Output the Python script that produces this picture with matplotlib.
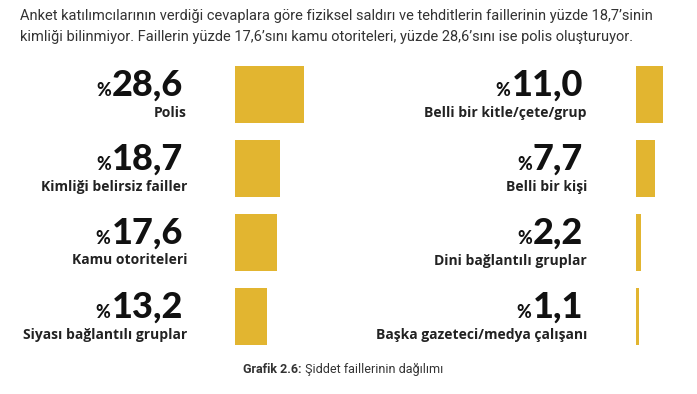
import matplotlib.pyplot as plt

# Data
left_labels = ["Polis", "Kimliği belirsiz failler", "Kamu otoriteleri", "Siyası bağlantılı gruplar"]
left_values = [28.6, 18.7, 17.6, 13.2]
right_labels = ["Belli bir kitle/çete/grup", "Belli bir kişi", "Dini bağlantılı gruplar", "Başka gazeteci/medya çalışanı"]
right_values = [11.0, 7.7, 2.2, 1.1]

header_lines = [
    "Anket katılımcılarının verdiği cevaplara göre fiziksel saldırı ve tehditlerin faillerinin yüzde 18,7’sinin",
    "kimliği bilinmiyor. Faillerin yüzde 17,6’sını kamu otoriteleri, yüzde 28,6’sını ise polis oluşturuyor.",
]
caption_bold = "Grafik 2.6:"
caption_rest = " Şiddet faillerinin dağılımı"

BAR_COLOR = "#E2B530"
W, H = 697, 394
PX_PER_UNIT = 2.41  # bar width in pixels per percentage point
row_centers = [94.5, 168.5, 242.5, 316.5]

fig = plt.figure(figsize=(W / 100, H / 100), dpi=100)
bg = fig.add_axes([0, 0, 1, 1])
bg.set_xlim(0, W)
bg.set_ylim(H, 0)
bg.axis("off")

for i, line in enumerate(header_lines):
    bg.text(20, 20 + i * 21, line, fontsize=10.5, family="Roboto", color="#333333",
            va="baseline")


def bar_column(x0, values):
    # axes laid out in pixels, data in percent
    width_px = 90
    ax = fig.add_axes([x0 / W, 0, width_px / W, 1])
    ax.set_xlim(0, width_px / PX_PER_UNIT)
    ax.set_ylim(H, 0)
    ax.barh(row_centers, values, height=57, left=0, color=BAR_COLOR)
    ax.axis("off")


bar_column(235, left_values)
bar_column(636, right_values)

fig.canvas.draw()
renderer = fig.canvas.get_renderer()


def label_column(x_right, labels, values):
    for yc, lab, val in zip(row_centers, labels, values):
        num = bg.text(x_right - 4, yc + 1, f"{val:.1f}".replace(".", ","), fontsize=26,
                      family="Lato", weight="black", ha="right", va="baseline", color="#111111")
        bb = num.get_window_extent(renderer)
        xr = bg.transData.inverted().transform((bb.x0, 0))[0]
        bg.text(xr - 1, yc + 1, "%", fontsize=13, family="Lato", weight="black",
                ha="right", va="baseline", color="#111111")
        bg.text(x_right, yc + 22, lab, fontsize=10, family="Open Sans", weight="bold",
                ha="right", va="baseline", color="#222222")


label_column(187, left_labels, left_values)
label_column(587, right_labels, right_values)

cap = bg.text(243, 373, caption_bold, fontsize=9, family="Roboto", weight="bold",
              va="baseline", color="#333333")
bb = cap.get_window_extent(renderer)
xr = bg.transData.inverted().transform((bb.x1, 0))[0]
bg.text(xr, 373, caption_rest, fontsize=9, family="Roboto", va="baseline", color="#333333")

fig.savefig("out.png", dpi=100)
